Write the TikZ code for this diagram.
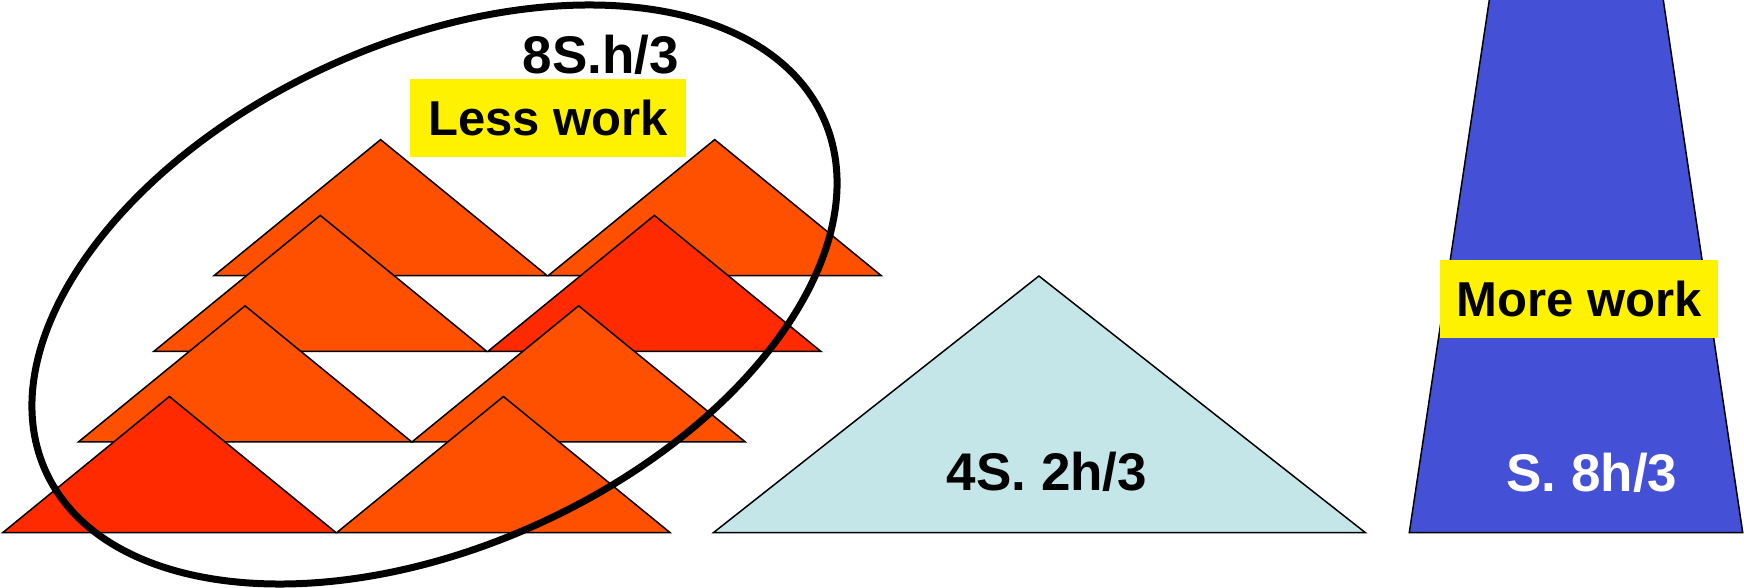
\documentclass[tikz,border=0pt]{standalone}
\usepackage{fontspec}
\setmainfont{Liberation Sans}
\definecolor{triorange}{HTML}{FF5000}
\definecolor{trired}{HTML}{FF2A00}
\definecolor{paleblue}{HTML}{C4E6E8}
\definecolor{deepblue}{HTML}{4450D6}
\tikzset{
  tri/.style={draw=black, line width=0.75pt, line join=miter},
  bigtxt/.style={font=\bfseries\fontsize{26.5pt}{30pt}\selectfont, inner sep=0pt, anchor=base},
  workbox/.style={fill=yellow, inner sep=0pt, font=\bfseries\fontsize{24.5pt}{28pt}\selectfont,
    minimum width=138pt, minimum height=38.75pt}
}
% pyramid from base-left corner, base width 333, height 136
\newcommand{\pyr}[3]{%
  \fill[#3] (#1,#2) -- ++(166.5,-136) -- ++(166.5,136) -- cycle;
  \draw[tri] (#1,#2) -- ++(166.5,-136) -- ++(166.5,136) -- cycle;}
\begin{document}
\begin{tikzpicture}[x=0.5pt,y=-0.5pt]
  \useasboundingbox (0,0) rectangle (1744,588);
  \clip (0,0) rectangle (1744,588);

  % eight small pyramids, back row first
  \pyr{214.1}{275.6}{triorange}
  \pyr{548.2}{275.6}{triorange}
  \pyr{153.8}{351.4}{triorange}
  \pyr{487.9}{351.4}{trired}
  \pyr{78.6}{441.8}{triorange}
  \pyr{412.1}{441.8}{triorange}
  \pyr{2.9}{532.5}{trired}
  \pyr{336.9}{532.5}{triorange}

  % one wide pyramid
  \draw[tri, fill=paleblue] (713.5,532.6) -- (1038.9,276) -- (1365.3,532.6) -- cycle;

  % tall trapezoid running off the top edge
  \draw[tri, fill=deepblue] (1492.3,-20) -- (1409.3,532.5) -- (1742.7,532.5) -- (1660.3,-20);

  % grouping ellipse
  \draw[line width=3.5pt, rotate around={24.47:(434.5,294.5)}]
    (434.5,294.5) ellipse [x radius=427.1, y radius=251.8];

  % labels
  \node[bigtxt] (lblA) at (601,74) {8S.h/3};
  \node[workbox] (less) at (548,118) {Less work};
  \node[bigtxt] (lblB) at (1047,490) {4S. 2h/3};
  \node[workbox, minimum width=139.25pt] (more) at (1579.2,298.8) {More work};
  \node[bigtxt, text=white] (lblC) at (1592,491) {S. 8h/3};
\end{tikzpicture}
\end{document}
